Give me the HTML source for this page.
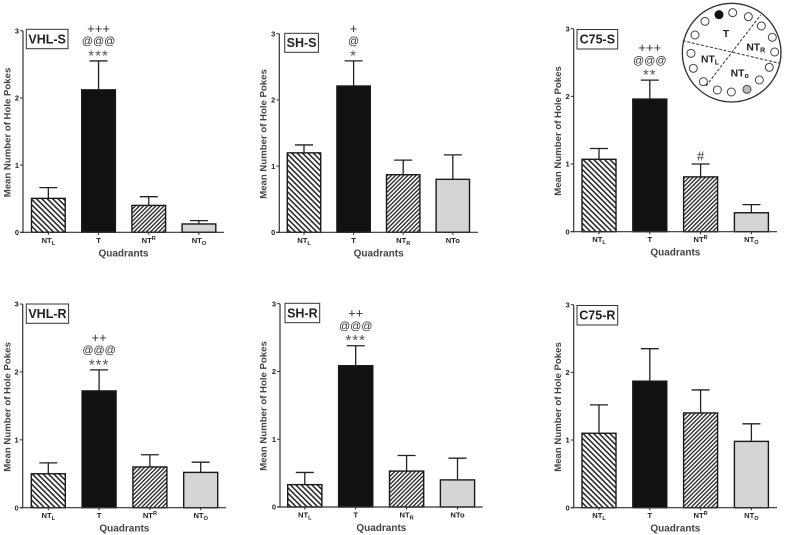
<!DOCTYPE html>
<html>
<head>
<meta charset="utf-8">
<title>Mean Number of Hole Pokes by Quadrant</title>
<style>
html,body{margin:0;padding:0;background:#fff;}
svg{display:block;font-family:"Liberation Sans",sans-serif;}
</style>
</head>
<body>
<svg id="fig" xmlns="http://www.w3.org/2000/svg" width="787" height="535" viewBox="0 0 787 535">
<defs>
<pattern id="hatch-left" patternUnits="userSpaceOnUse" width="3.8" height="3.8" patternTransform="rotate(45)">
<rect width="3.8" height="3.8" fill="#fff"/><rect width="3.8" height="1.5" fill="#222"/>
</pattern>
<pattern id="hatch-right" patternUnits="userSpaceOnUse" width="2.9" height="2.9" patternTransform="rotate(-45)">
<rect width="2.9" height="2.9" fill="#fff"/><rect width="2.9" height="1.3" fill="#222"/>
</pattern>
</defs>
<g id="panels"></g>
<g transform="translate(670 0) scale(0.3333)">
<circle cx="185" cy="158" r="148" fill="#fff" stroke="#333" stroke-width="4"/>
<line x1="38" y1="122" x2="330" y2="190" stroke="#333" stroke-width="3" stroke-dasharray="9 5"/>
<line x1="108" y1="258" x2="272" y2="45" stroke="#333" stroke-width="3" stroke-dasharray="9 5"/>
<g fill="#fff" stroke="#444" stroke-width="3">
<circle cx="147" cy="44" r="12" fill="#111" stroke="#111"/>
<circle cx="188" cy="38" r="12"/>
<circle cx="235" cy="50" r="12"/>
<circle cx="274" cy="78" r="12"/>
<circle cx="307" cy="112" r="12"/>
<circle cx="314" cy="156" r="12"/>
<circle cx="298" cy="202" r="12"/>
<circle cx="268" cy="240" r="12"/>
<circle cx="231" cy="268" r="12" fill="#bbb"/>
<circle cx="184" cy="276" r="12"/>
<circle cx="142" cy="270" r="12"/>
<circle cx="100" cy="245" r="12"/>
<circle cx="70" cy="205" r="12"/>
<circle cx="63" cy="160" r="12"/>
<circle cx="75" cy="105" r="12"/>
<circle cx="105" cy="64" r="12"/>
</g>
<g font-weight="bold" font-size="31" fill="#222">
<text x="168" y="111" text-anchor="middle">T</text>
<text x="229" y="152">NT<tspan font-size="21" dy="6">R</tspan></text>
<text x="93" y="188">NT<tspan font-size="21" dy="6">L</tspan></text>
<text x="182" y="230">NT<tspan font-size="21" dy="4">o</tspan></text>
</g>
</g>
</svg>
<script>
// Chart data
const categories = ["NTL", "T", "NTR", "NTO"];
const yTicks = [0, 1, 2, 3];
const meansVhlS = [0.505, 2.12, 0.40, 0.124];
const semsVhlS = [0.16, 0.43, 0.13, 0.05];
const meansShS = [1.20, 2.21, 0.87, 0.80];
const semsShS = [0.12, 0.38, 0.22, 0.37];
const meansC75S = [1.07, 1.96, 0.81, 0.28];
const semsC75S = [0.16, 0.28, 0.19, 0.12];
const meansVhlR = [0.50, 1.72, 0.60, 0.52];
const semsVhlR = [0.16, 0.31, 0.18, 0.15];
const meansShR = [0.33, 2.085, 0.53, 0.40];
const semsShR = [0.18, 0.295, 0.23, 0.32];
const meansC75R = [1.10, 1.87, 1.40, 0.98];
const semsC75R = [0.42, 0.48, 0.34, 0.26];
const sigVhlS = ["***", "@@@", "+++"];
const sigShS = ["*", "@", "+"];
const sigC75S = ["**", "@@@", "+++"];
const sigVhlR = ["***", "@@@", "++"];
const sigShR = ["***", "@@@", "++"];
const sigC75R = [];

const NS = "http://www.w3.org/2000/svg";
const panels = [
 {title:"VHL-S", means:meansVhlS, sems:semsVhlS, sig:sigVhlS, ax:23, y0:232.3, y3:30.7, xEnd:224, bar0:31.5, step:50.2, bw:33.7, box:[26.3,29.3,41.7,19.4], yt:[7.3,132.5], tick:"sup"},
 {title:"SH-S", means:meansShS, sems:semsShS, sig:sigShS, ax:279.3, y0:232.3, y3:33.7, xEnd:478, bar0:287.3, step:49.6, bw:33.4, box:[284.7,33.3,33.7,19], yt:[263.3,134], tick:"sub"},
 {title:"C75-S", means:meansC75S, sems:semsC75S, sig:sigC75S, ax:573.7, y0:231.7, y3:28.7, xEnd:777, bar0:582, step:50.8, bw:34, box:[577,29.5,40.7,19.5], yt:[557.7,131], tick:"sup", hash:true},
 {title:"VHL-R", means:meansVhlR, sems:semsVhlR, sig:sigVhlR, ax:22.7, y0:507.7, y3:304, xEnd:226, bar0:31.3, step:50.8, bw:34, box:[26.3,304,42.3,19.3], yt:[7.3,407], tick:"sup"},
 {title:"SH-R", means:meansShR, sems:semsShR, sig:sigShR, ax:280, y0:507, y3:303.7, xEnd:482.7, bar0:287.7, step:50.9, bw:34.2, box:[285,303.3,34.7,19.4], yt:[263.3,406], tick:"sub"},
 {title:"C75-R", means:meansC75R, sems:semsC75R, sig:sigC75R, ax:573.7, y0:507.7, y3:304.7, xEnd:777, bar0:582, step:50.8, bw:34, box:[577,305.5,40.7,19.5], yt:[557.7,407], tick:"sup"}
];
const fills = ["url(#hatch-left)", "#111", "url(#hatch-right)", "#d4d5d7"];
const root = document.getElementById("panels");

function mk(tag, attrs, parent, txt) {
  const el = document.createElementNS(NS, tag);
  for (const k in attrs) el.setAttribute(k, attrs[k]);
  if (txt !== undefined) el.textContent = txt;
  parent.appendChild(el);
  return el;
}

function catLabel(g, i, cx, y, mode) {
  const t = mk("text", {x:cx, y:y, "text-anchor":"middle", "font-size":"7.6", "font-weight":"bold", fill:"#222"}, g);
  
  
  const c = categories[i];
  if (c === "T") { t.textContent = "T"; return; }
  mk("tspan", {}, t, "NT");
  const letter = c.slice(2);
  if (mode === "sub" && letter === "O") { mk("tspan", {}, t, "o"); return; }
  if (mode === "sup" && letter === "R") { mk("tspan", {"font-size":"5.6", dy:"-3"}, t, letter); return; }
  mk("tspan", {"font-size":"5.6", dy:"2"}, t, letter);
}

panels.forEach(function (p) {
  const yScale = function (v) { return p.y0 - (v / 3) * (p.y0 - p.y3); };
  const xLeft = function (i) { return p.bar0 + i * p.step; };
  const g = mk("g", {}, root);
  
  

  // bars + error bars
  p.means.forEach(function (m, i) {
    const x = xLeft(i), cx = x + p.bw / 2, top = yScale(m), eTop = yScale(m + p.sems[i]);
    const err = mk("path", {d:"M"+cx+" "+top+"V"+eTop+"M"+(cx-9)+" "+eTop+"H"+(cx+9), stroke:"#222", "stroke-width":"1.3", fill:"none"}, g);
    
    
    const bar = mk("rect", {x:x, y:top, width:p.bw, height:p.y0-top, fill:fills[i], stroke:"#1a1a1a", "stroke-width":"1.4"}, g);
    
    
    const tk = mk("line", {x1:cx, x2:cx, y1:p.y0, y2:p.y0+2.5, stroke:"#222", "stroke-width":"1"}, g);
    
    
    catLabel(g, i, cx, p.y0 + 10.5, p.tick);
  });

  // axes
  const yAxis = mk("line", {x1:p.ax, x2:p.ax, y1:p.y3, y2:p.y0+0.6, stroke:"#333", "stroke-width":"1.2"}, g);
  
  
  const xAxis = mk("line", {x1:p.ax-3, x2:p.xEnd, y1:p.y0, y2:p.y0, stroke:"#333", "stroke-width":"1.2"}, g);
  
  
  yTicks.forEach(function (v) {
    const yy = yScale(v);
    const tk = mk("line", {x1:p.ax-3, x2:p.ax, y1:yy, y2:yy, stroke:"#333", "stroke-width":"1"}, g);
    
    
    const lb = mk("text", {x:p.ax-4, y:yy+2.7, "text-anchor":"end", "font-size":"7.5", "font-weight":"bold", fill:"#222"}, g, String(v));
    
    
  });

  // axis titles
  const yt = mk("text", {x:0, y:0, "text-anchor":"middle", "font-size":"9.6", "font-weight":"bold", fill:"#444", transform:"translate("+(p.yt[0]+3.4)+" "+p.yt[1]+") rotate(-90)"}, g, "Mean Number of Hole Pokes");
  
  
  const xt = mk("text", {x:(p.ax+p.xEnd)/2, y:p.y0+24, "text-anchor":"middle", "font-size":"10", "font-weight":"bold", fill:"#444"}, g, "Quadrants");
  
  

  // panel title box
  const bx = mk("rect", {x:p.box[0], y:p.box[1], width:p.box[2], height:p.box[3], fill:"#fff", stroke:"#333", "stroke-width":"1"}, g);
  
  
  const bt = mk("text", {x:p.box[0]+p.box[2]/2, y:p.box[1]+p.box[3]/2+4.4, "text-anchor":"middle", "font-size":"12.5", "font-weight":"bold", fill:"#222"}, g, p.title);
  
  

  // significance markers above the T bar
  const tcx = xLeft(1) + p.bw / 2, tTop = yScale(p.means[1] + p.sems[1]);
  p.sig.forEach(function (s, r) {
    const base = r === 0 ? tTop - 0.5 : (r === 1 ? tTop - 16.3 : tTop - 28);
    const size = r === 0 ? 15 : (r === 1 ? 11 : 13);
    const mark = mk("text", {x:tcx, y:base, "text-anchor":"middle", "font-size":size, fill:r === 0 ? "#555" : "#333", "letter-spacing":r === 0 ? "1" : "0"}, g, s);
    
    
  });
  if (p.hash) {
    const hx = xLeft(2) + p.bw / 2, hTop = yScale(p.means[2] + p.sems[2]);
    const h = mk("text", {x:hx, y:hTop-3.5, "text-anchor":"middle", "font-size":"13", fill:"#333"}, g, "#");
    
    
  }
});
</script>
</body>
</html>
